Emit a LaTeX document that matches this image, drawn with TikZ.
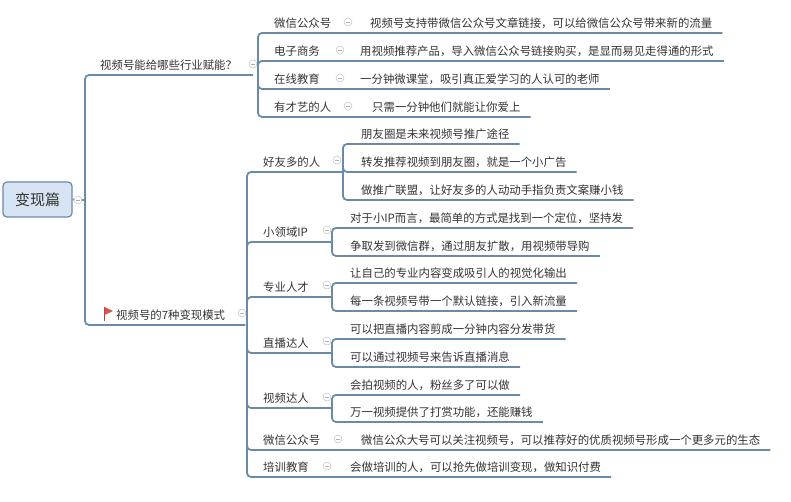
\documentclass[tikz,border=0pt]{standalone}
\usepackage{fontspec}
\newfontfamily\cjk{Noto Sans CJK SC}
\definecolor{linecol}{HTML}{6A8AAA}
\definecolor{rootfill}{HTML}{D6E4F4}
\definecolor{flagred}{HTML}{D9534F}
\tikzset{
  topic/.style={anchor=south west, inner xsep=2pt, inner ysep=3pt, text height=11pt, text depth=2.5pt,
    font=\cjk\fontsize{11.4}{11.4}\selectfont, text=black!80},
  branch/.style={draw=linecol, line width=1.8pt, rounded corners=4pt},
  fold/.style={circle, draw=gray!50, line width=0.5pt, minimum size=8pt, inner sep=0pt,
    path picture={\draw[gray!60, line width=0.6pt] ([xshift=-2pt]path picture bounding box.center) -- ([xshift=2pt]path picture bounding box.center);}},
}
\begin{document}
\begin{tikzpicture}[x=1pt, y=-1pt]
	\useasboundingbox (0,0) rectangle (791,502);
	% root
	\node[draw=linecol, fill=rootfill, line width=1.2pt, rounded corners=4pt, minimum width=69pt, minimum height=35pt,
	  font=\cjk\fontsize{15}{15}\selectfont, text=black!80] (root) at (37.5,199.5) {变现篇};
	\coordinate (M) at (85,200);
	\draw[branch] (root.east) -- (M);
	\node[fold, fill=white] (froot) at (78,200) {};
	% first branch
	\node[topic] (hy) at (98,75) {视频号能给哪些行业赋能？};
	\node[topic] (ms) at (114,325) {视频号的7种变现模式};
	\draw[branch] (M) |- ([xshift=14pt]hy.south east);
	\draw[branch] (M) |- ([xshift=18pt]ms.south east);
	\node[fold] (fhy) at (253,64) {};
	\node[fold] (fms) at (242,313) {};
	% flag
	\draw[flagred!80!black, line width=1pt] (104,307) -- (104,321);
	\fill[flagred] (104.5,307) -- (113,311) -- (104.5,315) -- cycle;

	\coordinate (B1) at (258,75);
	\node[topic] (gzh) at (272,33) {微信公众号};
	\node[topic] (dzsw) at (272,61) {电子商务};
	\node[topic] (zxjy) at (272,89) {在线教育};
	\node[topic] (cy) at (272,117) {有才艺的人};
	\node[fold] at (348,22) {};
	\node[fold] at (340,50) {};
	\node[fold] at (340,78) {};
	\node[fold] at (348,106) {};
	\node[topic] (gzh1) at (368,33) {视频号支持带微信公众号文章链接，可以给微信公众号带来新的流量};
	\node[topic] (dzsw1) at (358,61) {用视频推荐产品，导入微信公众号链接购买，是显而易见走得通的形式};
	\node[topic] (zxjy1) at (358,89) {一分钟微课堂，吸引真正爱学习的人认可的老师};
	\node[topic] (cy1) at (370,117) {只需一分钟他们就能让你爱上};
	\foreach \n in {gzh1, dzsw1, zxjy1, cy1}
	  \draw[branch] (B1) |- ([xshift=8pt]\n.south east);

	% second branch
	\coordinate (B2) at (247,325);
	\node[topic] (hy7) at (261,172) {好友多的人};
	\node[topic] (xly) at (261,242) {小领域IP};
	\node[topic] (zy) at (261,297) {专业人才};
	\node[topic] (zb) at (261,353) {直播达人};
	\node[topic] (sp) at (261,408) {视频达人};
	\node[topic] (wx) at (261,450) {微信公众号};
	\node[topic] (px) at (261,477) {培训教育};
	\node[fold] at (337,160) {};
	\node[fold] at (327,230) {};
	\node[fold] at (327,285) {};
	\node[fold] at (327,341) {};
	\node[fold] at (327,397) {};
	\node[fold] at (338,439) {};
	\node[fold] at (327,466) {};
	\coordinate (S1) at (343,172);
	\coordinate (S2) at (332,242);
	\coordinate (S3) at (332,297);
	\coordinate (S4) at (332,353);
	\coordinate (S5) at (332,408);
	\foreach \s in {S1, S2, S3, S4, S5}
	  \draw[branch] (B2) |- (\s);

	\node[topic] (hy71) at (359,144) {朋友圈是未来视频号推广途径};
	\node[topic] (hy72) at (359,172) {转发推荐视频到朋友圈，就是一个小广告};
	\node[topic] (hy73) at (359,200) {做推广联盟，让好友多的人动动手指负责文案赚小钱};
	\node[topic] (xly1) at (348,228) {对于小IP而言，最简单的方式是找到一个定位，坚持发};
	\node[topic] (xly2) at (348,256) {争取发到微信群，通过朋友扩散，用视频带导购};
	\node[topic] (zy1) at (348,283) {让自己的专业内容变成吸引人的视觉化输出};
	\node[topic] (zy2) at (348,311) {每一条视频号带一个默认链接，引入新流量};
	\node[topic] (zb1) at (348,339) {可以把直播内容剪成一分钟内容分发带货};
	\node[topic] (zb2) at (348,367) {可以通过视频号来告诉直播消息};
	\node[topic] (sp1) at (348,395) {会拍视频的人，粉丝多了可以做};
	\node[topic] (sp2) at (348,422) {万一视频提供了打赏功能，还能赚钱};
	\node[topic] (wx1) at (359,450) {微信公众大号可以关注视频号，可以推荐好的优质视频号形成一个更多元的生态};
	\node[topic] (px1) at (348,477) {会做培训的人，可以抢先做培训变现，做知识付费};
	\foreach \n in {hy71, hy72, hy73}
	  \draw[branch] (S1) |- ([xshift=8pt]\n.south east);
	\foreach \n in {xly1, xly2}
	  \draw[branch] (S2) |- ([xshift=8pt]\n.south east);
	\foreach \n in {zy1, zy2}
	  \draw[branch] (S3) |- ([xshift=8pt]\n.south east);
	\foreach \n in {zb1, zb2}
	  \draw[branch] (S4) |- ([xshift=8pt]\n.south east);
	\foreach \n in {sp1, sp2}
	  \draw[branch] (S5) |- ([xshift=8pt]\n.south east);
	\draw[branch] (B2) |- ([xshift=8pt]wx1.south east);
	\draw[branch] (B2) |- ([xshift=8pt]px1.south east);
\end{tikzpicture}
\end{document}
